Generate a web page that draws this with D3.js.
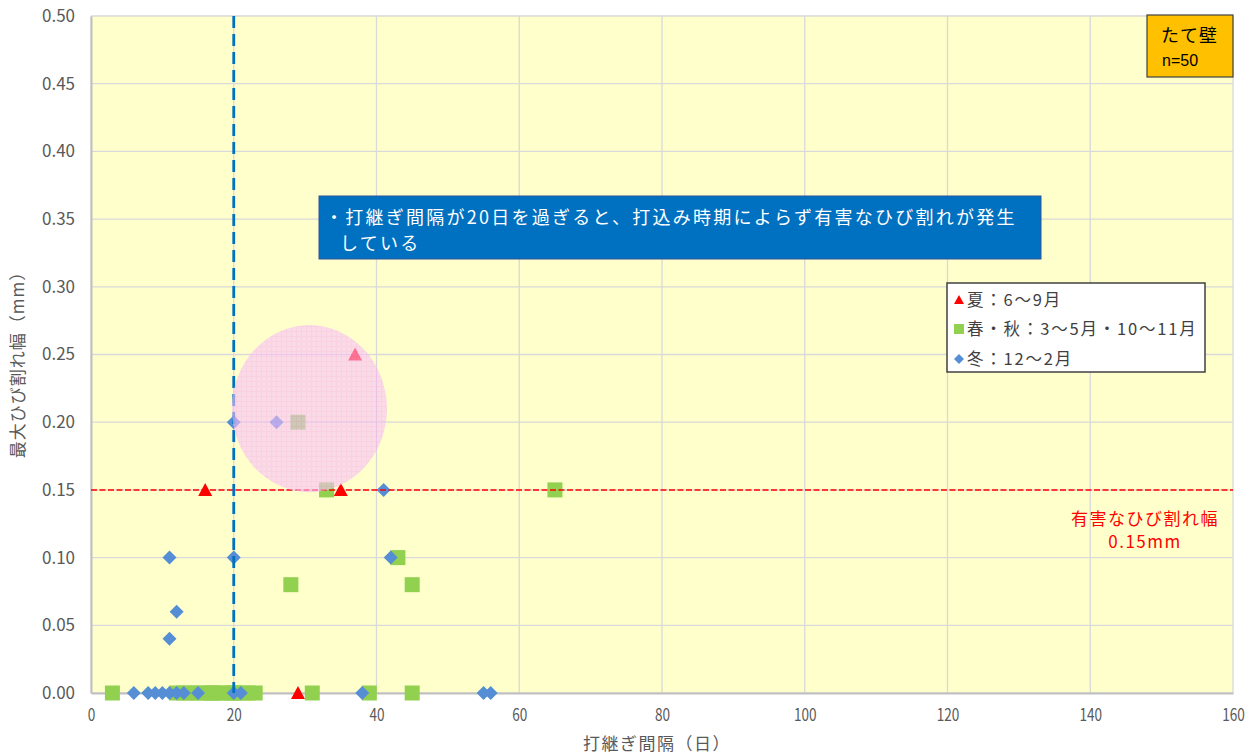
<!DOCTYPE html>
<html lang="ja">
<head>
<meta charset="utf-8">
<script src="https://cdn.jsdelivr.net/npm/d3@7/dist/d3.min.js"></script>
<style>
  html, body { margin: 0; padding: 0; background: #ffffff; }
  svg { display: block; }
  text { font-family: "Noto Sans CJK JP", "Noto Sans", sans-serif; }
</style>
</head>
<body>
<svg id="chart" width="1257" height="756"></svg>
<script>
// 夏：6～9月
const summerX = [16, 29, 16, 35, 37];
const summerY = [0, 0, 0.15, 0.15, 0.25];

// 春・秋：3～5月・10～11月
const springX = [3, 12, 13, 14, 15, 16, 17, 18, 19, 20, 21, 22, 23, 17, 20, 31, 39, 45,
                 28, 45, 43, 33, 65, 29];
const springY = [0, 0, 0, 0, 0, 0, 0, 0, 0, 0, 0, 0, 0, 0, 0, 0, 0, 0,
                 0.08, 0.08, 0.10, 0.15, 0.15, 0.20];

// 冬：12～2月
const winterX = [6, 8, 9, 10, 11, 12, 13, 15, 20, 21, 38, 55, 56,
                 11, 12, 11, 20, 42, 41, 20, 26];
const winterY = [0, 0, 0, 0, 0, 0, 0, 0, 0, 0, 0, 0, 0,
                 0.04, 0.06, 0.10, 0.10, 0.10, 0.15, 0.20, 0.20];

const xTicks = [0, 20, 40, 60, 80, 100, 120, 140, 160];
const yTicks = [0, 0.05, 0.10, 0.15, 0.20, 0.25, 0.30, 0.35, 0.40, 0.45, 0.50];

const seriesNames = ["夏：6～9月", "春・秋：3～5月・10～11月", "冬：12～2月"];
const xTitle = "打継ぎ間隔（日）";
const yTitle = "最大ひび割れ幅（mm）";
const limitWidth = 0.15;     // 有害なひび割れ幅
const limitDays = 20;        // 打継ぎ間隔の目安
const noteLines = ["・打継ぎ間隔が20日を過ぎると、打込み時期によらず有害なひび割れが発生", "している"];
const tagLines = ["たて壁", "n=50"];
const limitLabel = ["有害なひび割れ幅", "0.15mm"];
// 強調範囲（データ座標）：中心と半径
const focusCenter = [30.6, 0.210];
const focusRadius = [10.86, 0.0617];

const svg = d3.select("#chart");
const margin = { left: 91, top: 16, right: 24, bottom: 63 };
const W = 1257, H = 756;
const iw = W - margin.left - margin.right;
const ih = H - margin.top - margin.bottom;

const x = d3.scaleLinear().domain([0, 160]).range([0, iw]);
const y = d3.scaleLinear().domain([0, 0.5]).range([ih, 0]);

const defs = svg.append("defs");
const pat = defs.append("pattern")
  .attr("id", "pinkGrid").attr("patternUnits", "userSpaceOnUse")
  .attr("width", 5).attr("height", 5);
pat.append("rect").attr("width", 5).attr("height", 5).attr("fill", "rgb(249,194,250)");
pat.append("path").attr("d", "M0,0.5H5M0.5,0V5")
  .attr("stroke", "rgb(246,178,238)").attr("stroke-width", 1);

const g = svg.append("g").attr("transform", `translate(${margin.left},${margin.top})`);

// plot background
g.append("rect").attr("width", iw).attr("height", ih).attr("fill", "#ffffcc");

// gridlines
g.append("g").selectAll("line").data(xTicks).join("line")
  .attr("x1", d => x(d)).attr("x2", d => x(d)).attr("y1", 0).attr("y2", ih)
  .attr("stroke", "#d9d9d9").attr("stroke-width", 1.3);
g.append("g").selectAll("line").data(yTicks).join("line")
  .attr("x1", 0).attr("x2", iw).attr("y1", d => y(d)).attr("y2", d => y(d))
  .attr("stroke", "#d9d9d9").attr("stroke-width", 1.3);

// axes
const xAxis = g.append("g").attr("transform", `translate(0,${ih})`)
  .call(d3.axisBottom(x).tickValues(xTicks).tickSize(0).tickPadding(16).tickFormat(d3.format("d")));
xAxis.select(".domain").attr("stroke", "#bfbfbf").attr("stroke-width", 2);
xAxis.selectAll("text").attr("fill", "#595959").style("font-size", "17px")
  .attr("transform", "scale(0.8,1)");

const yAxis = g.append("g")
  .call(d3.axisLeft(y).tickValues(yTicks).tickSize(0).tickPadding(16).tickFormat(d3.format(".2f")));
yAxis.select(".domain").attr("stroke", "#bfbfbf").attr("stroke-width", 2);
yAxis.selectAll("text").attr("fill", "#595959").style("font-size", "17px");

// axis titles
svg.append("text").attr("x", margin.left + iw / 2 - 5).attr("y", 750)
  .attr("text-anchor", "middle").attr("fill", "#595959").style("font-size", "17px")
  .style("letter-spacing", "1.5px")
  .text(xTitle);
svg.append("text").attr("transform", `translate(24,${margin.top + ih / 2 + 6}) rotate(-90)`)
  .attr("text-anchor", "middle").attr("fill", "#595959").style("font-size", "17px")
  .style("letter-spacing", "1px")
  .text(yTitle);

// marker shapes
const tri = "M0,-7L7,6L-7,6Z";
const sq = "M-7.5,-7.5H7.5V7.5H-7.5Z";
const dia = "M0,-7L7,0L0,7L-7,0Z";

const marks = g.append("g");
marks.selectAll(".s").data(d3.range(summerX.length)).join("path")
  .attr("transform", i => `translate(${x(summerX[i])},${y(summerY[i])})`)
  .attr("d", tri).attr("fill", "#ff0000");
marks.selectAll(".p").data(d3.range(springX.length)).join("path")
  .attr("transform", i => `translate(${x(springX[i])},${y(springY[i])})`)
  .attr("d", sq).attr("fill", "#92d050");
marks.selectAll(".w").data(d3.range(winterX.length)).join("path")
  .attr("transform", i => `translate(${x(winterX[i])},${y(winterY[i])})`)
  .attr("d", dia).attr("fill", "#558ed5");

// reference lines
g.append("line").attr("x1", 0).attr("x2", iw)
  .attr("y1", y(limitWidth)).attr("y2", y(limitWidth))
  .attr("stroke", "#ff0000").attr("stroke-width", 1.5).attr("stroke-dasharray", "6,2.5");
g.append("line").attr("x1", x(limitDays)).attr("x2", x(limitDays))
  .attr("y1", 0).attr("y2", ih)
  .attr("stroke", "#0070c0").attr("stroke-width", 2.8).attr("stroke-dasharray", "12,6");

// highlighted region
g.append("ellipse")
  .attr("cx", x(focusCenter[0])).attr("cy", y(focusCenter[1]))
  .attr("rx", x(focusRadius[0]) - x(0)).attr("ry", y(0) - y(focusRadius[1]))
  .attr("fill", "url(#pinkGrid)").attr("opacity", 0.6);

// limit label
const ll = g.append("text").attr("text-anchor", "middle").attr("fill", "#ff0000")
  .style("font-size", "17px").style("letter-spacing", "1.5px");
ll.append("tspan").attr("x", x(160) - 88).attr("y", y(0.15) + 35).text(limitLabel[0]);
ll.append("tspan").attr("x", x(160) - 88).attr("y", y(0.15) + 58).text(limitLabel[1]);

// note box
svg.append("rect").attr("x", 319).attr("y", 196).attr("width", 722).attr("height", 63)
  .attr("fill", "#0070c0").attr("stroke", "#2f5597").attr("stroke-width", 1);
const nt = svg.append("text").attr("fill", "#ffffff").style("font-size", "18px")
  .style("letter-spacing", "2.25px");
nt.append("tspan").attr("x", 325).attr("y", 224).text(noteLines[0]);
nt.append("tspan").attr("x", 340).attr("y", 250).text(noteLines[1]);

// legend
const lg = svg.append("g").attr("transform", "translate(947,283)");
lg.append("rect").attr("width", 258).attr("height", 89)
  .attr("fill", "#ffffff").attr("stroke", "#404040").attr("stroke-width", 1.5);
const legShapes = ["M0,-5L5,4L-5,4Z", "M-5,-5H5V5H-5Z", "M0,-5L5,0L0,5L-5,0Z"];
const legColors = ["#ff0000", "#92d050", "#558ed5"];
const legY = [17, 46, 76];
seriesNames.forEach((name, i) => {
  lg.append("path").attr("transform", `translate(12,${legY[i]})`)
    .attr("d", legShapes[i]).attr("fill", legColors[i]);
  lg.append("text").attr("x", 20).attr("y", legY[i] + 6)
    .attr("fill", "#404040").style("font-size", "16.5px").style("letter-spacing", "1.8px")
    .text(name);
});

// tag box
svg.append("rect").attr("x", 1147).attr("y", 15).attr("width", 86).attr("height", 62)
  .attr("fill", "#ffc000").attr("stroke", "#404040").attr("stroke-width", 1.2);
svg.append("text").attr("x", 1161).attr("y", 42).attr("fill", "#000000")
  .style("font-size", "18px").style("letter-spacing", "1px").text(tagLines[0]);
svg.append("text").attr("x", 1162).attr("y", 66).attr("fill", "#000000")
  .style("font-family", "'Liberation Sans', Arial, sans-serif")
  .style("font-size", "16px").text(tagLines[1]);
</script>
</body>
</html>
